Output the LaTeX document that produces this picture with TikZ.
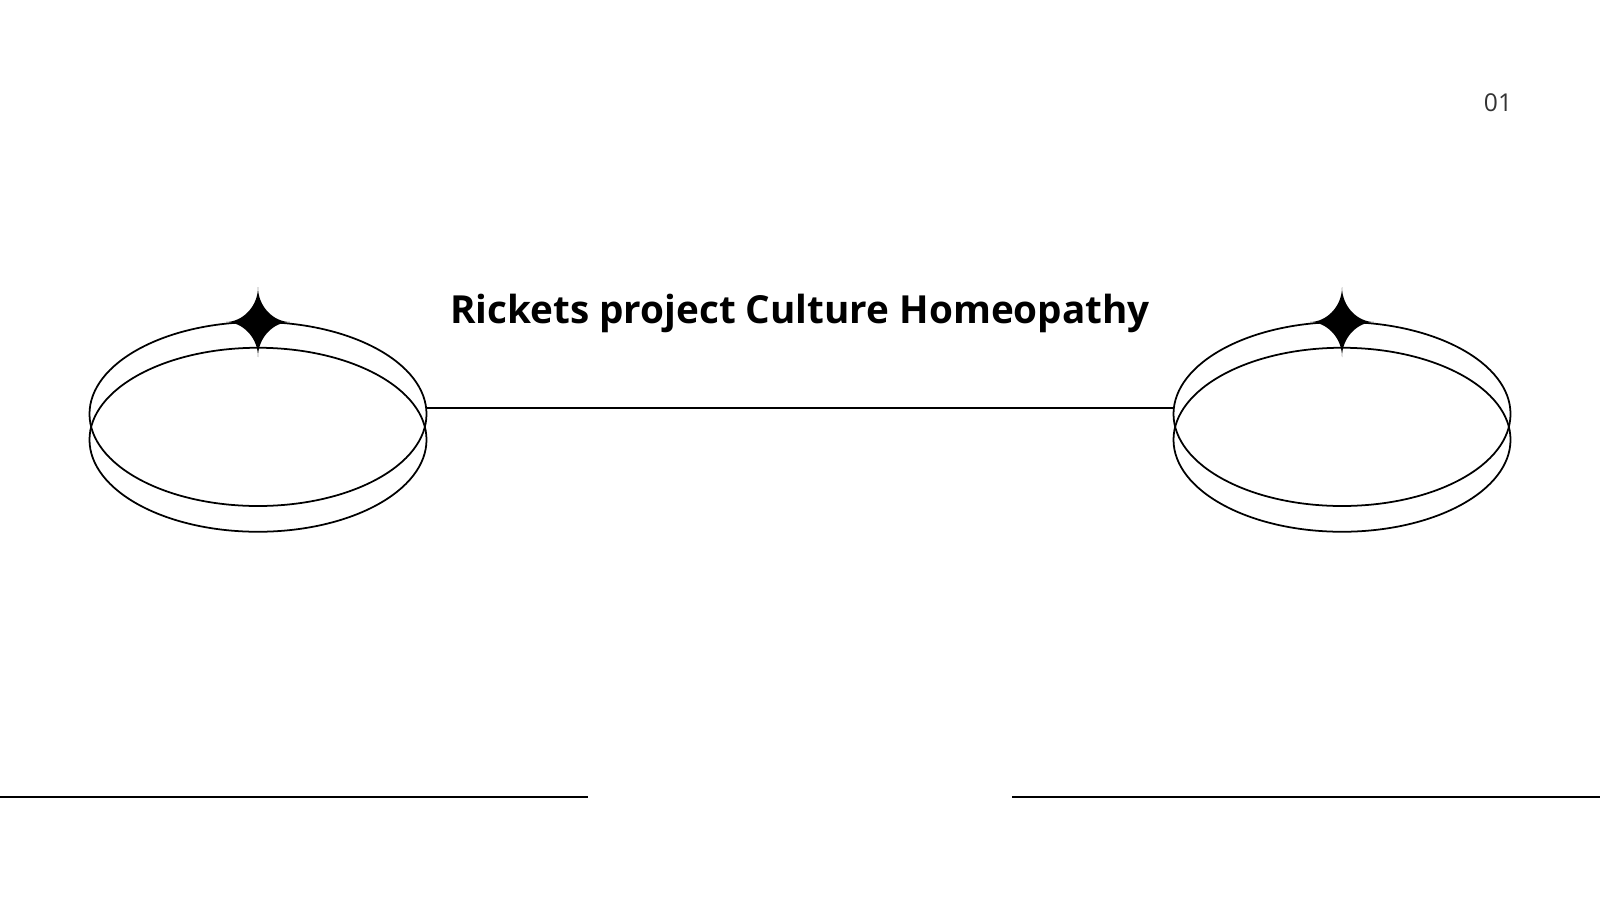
\documentclass[tikz,border=0pt]{standalone}
\usepackage{fontspec}
\setmainfont{Open Sans}
\usetikzlibrary{shapes.geometric,positioning}
\tikzset{
  ring/.style={ellipse, draw, line width=0.5pt, minimum width=3.37cm, minimum height=1.84cm, inner sep=0pt},
  rule/.style={line width=0.6pt},
}
\newcommand{\sparkle}[1]{%
  \fill (#1) ++(0,0.35) .. controls +(0,-0.2) and +(-0.16,0) .. ++(0.32,-0.35)
    .. controls +(-0.16,0) and +(0,0.2) .. ++(-0.32,-0.35)
    .. controls +(0,0.2) and +(0.16,0) .. ++(-0.32,0.35)
    .. controls +(0.16,0) and +(0,-0.2) .. cycle;}

\begin{document}
\begin{tikzpicture}
  \useasboundingbox (0,0) rectangle (16,9);

  % left and right rings
  \node [ring] (lup) at (2.58,4.86) {};
  \node [ring, below = -1.6cm of lup] (ldown) {};
  \node [ring] (rup) at (13.42,4.86) {};
  \node [ring, below = -1.6cm of rup] (rdown) {};

  \sparkle{2.58,5.78}
  \sparkle{13.42,5.78}

  \coordinate (lend) at (4.265,4.918);
  \coordinate (rend) at (11.735,4.918);
  \draw [rule] (lend) -- (rend);

  \node [font=\bfseries\fontsize{11}{13}\selectfont] (title) at (8,5.87) {Rickets project Culture Homeopathy};
  \node [font=\fontsize{7}{9}\selectfont, text=black!80] (page) at (14.98,7.97) {01};

  % bottom rules
  \coordinate (b1) at (0,1.03);
  \coordinate (b2) at (5.88,1.03);
  \coordinate (b3) at (10.12,1.03);
  \coordinate (b4) at (16,1.03);
  \draw [rule] (b1) -- (b2);
  \draw [rule] (b3) -- (b4);
\end{tikzpicture}
\end{document}
